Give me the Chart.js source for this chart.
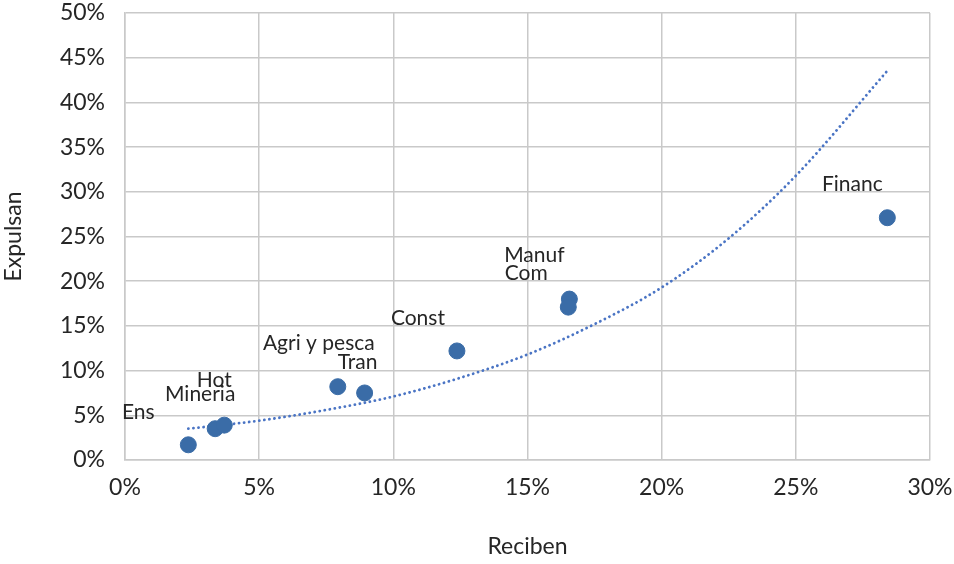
<!DOCTYPE html>
<html>
<head>
<meta charset="utf-8">
<script src="https://cdn.jsdelivr.net/npm/chart.js@4"></script>
<style>
  html, body { margin: 0; padding: 0; background: #fff; }
  #wrap { width: 954px; height: 564px; }
</style>
</head>
<body>
<div id="wrap"><canvas id="myChart" width="954" height="564"></canvas></div>
<script>
// sectors (percent)
const sectors = ["Ens", "Mineria", "Hot", "Agri y pesca", "Tran", "Const", "Manuf", "Com", "Financ"];
const reciben = [2.36, 3.36, 3.7, 7.93, 8.93, 12.37, 16.56, 16.52, 28.41];
const expulsan = [1.7, 3.5, 3.9, 8.2, 7.5, 12.2, 18.0, 17.1, 27.1];

// trendline (exponential)
const trendX = [2.36, 5, 7.5, 10, 12.5, 15, 17.5, 20, 22.5, 25, 28.4];
const trendY = [3.5, 4.4, 5.6, 7.1, 9.2, 11.8, 15.2, 19.3, 24.8, 31.8, 43.5];

const xTicks = [0, 5, 10, 15, 20, 25, 30];
const yTicks = [0, 5, 10, 15, 20, 25, 30, 35, 40, 45, 50];

// label offsets from each point (px), style only
const labelDx = [-50, -15, -10, -19, -7, -39, -35, -42, -35];
const labelDy = [-33, -34, -45, -43, -31, -33, -44, -34, -33];

const FONT = "Lato, 'Noto Sans', sans-serif";
const TXT = "#262626";

const pts = reciben.map(function (x, i) { return {x: x, y: expulsan[i]}; });
const trend = trendX.map(function (x, i) { return {x: x, y: trendY[i]}; });

const labelPlugin = {
    id: "pointLabels",
    afterDatasetsDraw(chart) {
        const ctx = chart.ctx;
        const xs = chart.scales.x, ys = chart.scales.y;
        ctx.save();
        ctx.font = "21px " + FONT;
        ctx.fillStyle = TXT;
        ctx.textAlign = "center";
        ctx.textBaseline = "middle";
        sectors.forEach(function (s, i) {
            const px = xs.getPixelForValue(reciben[i]);
            const py = ys.getPixelForValue(expulsan[i]);
            ctx.fillText(s, px + labelDx[i], py + labelDy[i]);
        });
        ctx.restore();
    }
};

new Chart(document.getElementById("myChart"), {
    type: "scatter",
    data: {
        datasets: [
            {
                label: "Sectores",
                data: pts,
                backgroundColor: "#3a6ca7",
                borderColor: "#3a6ca7",
                pointRadius: 8,
                pointHoverRadius: 8,
                order: 1
            },
            {
                label: "Tendencia",
                type: "line",
                data: trend,
                borderColor: "#4a74c4",
                borderWidth: 2.8,
                borderDash: [0.1, 5],
                borderCapStyle: "round",
                cubicInterpolationMode: "monotone",
                pointRadius: 0,
                fill: false,
                order: 2
            }
        ]
    },
    options: {
        responsive: false,
        animation: false,
        layout: {padding: {left: 0, right: 24, top: 13, bottom: 0}},
        plugins: {
            legend: {display: false},
            tooltip: {enabled: false}
        },
        scales: {
            x: {
                type: "linear",
                min: 0, max: 30,
                afterBuildTicks: function (axis) { axis.ticks = xTicks.map(function (v) { return {value: v}; }); },
                afterFit: function (axis) { axis.height = 104; axis.paddingLeft = 0; axis.paddingRight = 0; },
                grid: {color: "#c9c9c9", lineWidth: 1.5, drawTicks: false},
                border: {color: "#c9c9c9", width: 1.5},
                ticks: {
                    color: TXT, padding: 14,
                    font: {family: FONT, size: 23},
                    callback: function (v) { return v + "%"; }
                },
                title: {
                    display: true, text: "Reciben", color: TXT,
                    font: {family: FONT, size: 23},
                    padding: {top: 24}
                }
            },
            y: {
                type: "linear",
                min: 0, max: 50,
                afterBuildTicks: function (axis) { axis.ticks = yTicks.map(function (v) { return {value: v}; }); },
                afterFit: function (axis) { axis.width = 125; axis.paddingTop = 0; axis.paddingBottom = 0; },
                grid: {color: "#c9c9c9", lineWidth: 1.5, drawTicks: false},
                border: {color: "#c9c9c9", width: 1.5},
                ticks: {
                    color: TXT, padding: 20,
                    font: {family: FONT, size: 23},
                    callback: function (v) { return v + "%"; }
                },
                title: {
                    display: true, text: "Expulsan", color: TXT,
                    font: {family: FONT, size: 23},
                    padding: {top: 0, bottom: 10}
                }
            }
        }
    },
    plugins: [labelPlugin]
});
</script>
</body>
</html>
